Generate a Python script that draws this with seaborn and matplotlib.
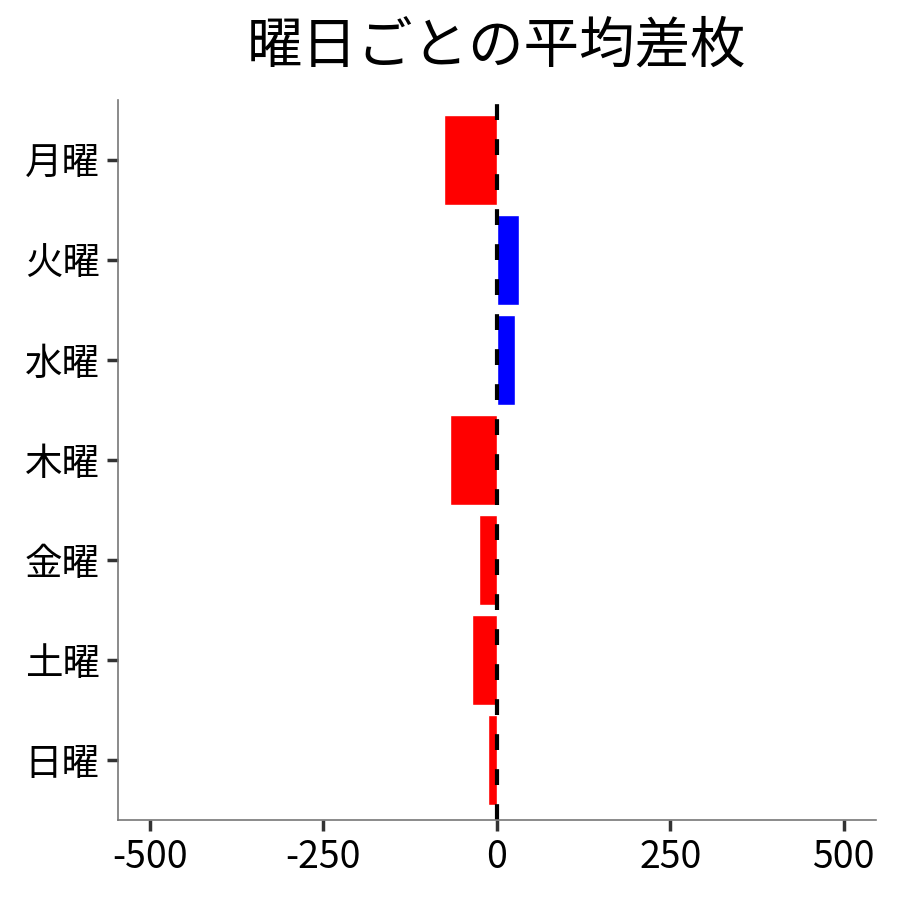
import pandas as pd
import numpy as np
import matplotlib.pyplot as plt
import seaborn as sns

# データ
days = ['月曜', '火曜', '水曜', '木曜', '金曜', '土曜', '日曜']
diff_mean = [-76, 32, 26, -67, -25, -36, -12]

df = pd.DataFrame({'曜日': days, '平均差枚': diff_mean})
df['符号'] = np.where(df['平均差枚'] >= 0, 'plus', 'minus')

sns.set_style('white')
plt.rcParams['font.family'] = ['Noto Sans CJK JP', 'DejaVu Sans']

fig, ax = plt.subplots(figsize=(9, 9), dpi=100)
fig.subplots_adjust(left=0.131, right=0.973, top=0.889, bottom=0.089)

sns.barplot(data=df, x='平均差枚', y='曜日', hue='符号',
            palette={'plus': 'blue', 'minus': 'red'},
            dodge=False, width=0.9, legend=False, ax=ax, saturation=1)

# 0の基準線
ax.axvline(0, color='black', linestyle='--', linewidth=3, dashes=(3.8, 4.6))

ax.set_xlim(-546, 546)
ax.set_ylim(6.6, -0.6)
ax.set_xticks([-500, -250, 0, 250, 500])
ax.set_xticklabels(['-500', '-250', '0', '250', '500'])
ax.set_xlabel('')
ax.set_ylabel('')
ax.set_title('曜日ごとの平均差枚', fontsize=40, pad=27, color='black')

ax.tick_params(axis='both', labelsize=27, length=8, width=2.5, color='#333333',
               labelcolor='black', bottom=True, left=True, pad=5)
for s in ['top', 'right']:
    ax.spines[s].set_visible(False)
for s in ['left', 'bottom']:
    ax.spines[s].set_color('#777777')
    ax.spines[s].set_linewidth(1.2)

plt.savefig('out.png', dpi=100)
